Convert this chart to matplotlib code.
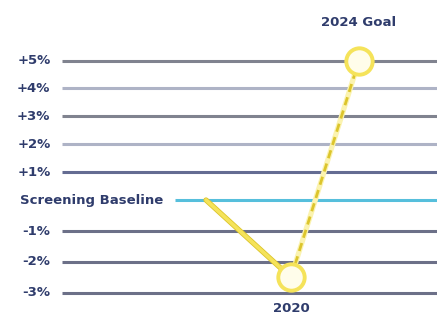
import numpy as np
import matplotlib.pyplot as plt
import matplotlib.patheffects as pe

# data
grid_levels = [5, 4, 3, 2, 1, -1, -2, -3]
grid_labels = ["+5%", "+4%", "+3%", "+2%", "+1%", "-1%", "-2%", "-3%"]
baseline_label = "Screening Baseline"
years = [2015, 2020, 2024]
values = [0.0, -2.5, 5.0]
point_labels = ["", "2020", "2024 Goal"]

TEXT = "#2f3c6c"
YELLOW = "#f5e35a"
YELLOW_EDGE = "#dcc52c"
CYAN = "#56bfdc"

# the gains side of the chart is drawn a bit tighter than the losses side
def fwd(v):
    v = np.asarray(v, dtype=float)
    return np.where(v > 0, v * 0.9, v)

def inv(u):
    u = np.asarray(u, dtype=float)
    return np.where(u > 0, u / 0.9, u)

fig = plt.figure(figsize=(4.37, 3.15), dpi=100)
ax = fig.add_axes([0, 0, 1, 1])
ax.set_yscale("function", functions=(fwd, inv))
ax.set_xlim(2002.88, 2028.59)
ax.set_ylim(-3.71, 7.17)
ax.axis("off")

# grid lines, alternating shades
shades = {5: "#80838f", 4: "#aeb3c6", 3: "#80838f", 2: "#aeb3c6",
          1: "#646c92", -1: "#6c7088", -2: "#6c7088", -3: "#6c7088"}
for lv, lab in zip(grid_levels, grid_labels):
    ax.hlines(lv, 2006.5, 2028.59, color=shades[lv], lw=2.2, zorder=1)
    ax.text(2005.85, lv, lab, ha="right", va="center",
            fontsize=9.5, fontweight="bold", color=TEXT)

# baseline
ax.hlines(0, 2013.2, 2028.59, color=CYAN, lw=2.2, zorder=1)
ax.text(2012.5, 0, baseline_label, ha="right", va="center",
        fontsize=9.5, fontweight="bold", color=TEXT)

# solid segment baseline -> 2020
ax.plot(years[:2], values[:2], color=YELLOW, lw=2.6, solid_capstyle="round", zorder=2,
        path_effects=[pe.Stroke(linewidth=3.8, foreground=YELLOW_EDGE), pe.Normal()])
# dashed segment 2020 -> goal
ax.plot(years[1:], values[1:], color="#fbf3b0", lw=3.8, zorder=2)
ax.plot(years[1:], values[1:], color=YELLOW_EDGE, lw=2.0, ls=(0, (3, 2)), zorder=2)

# markers
ax.plot(years[1:], values[1:], "o", ms=19, mfc="#fffdea", mec=YELLOW, mew=2.8, zorder=3)

ax.text(years[2], 6.38, point_labels[2], ha="center", va="center",
        fontsize=9.5, fontweight="bold", color=TEXT)
ax.text(years[1], -3.5, point_labels[1], ha="center", va="center",
        fontsize=9.5, fontweight="bold", color=TEXT)

fig.savefig("out.png", dpi=100)
